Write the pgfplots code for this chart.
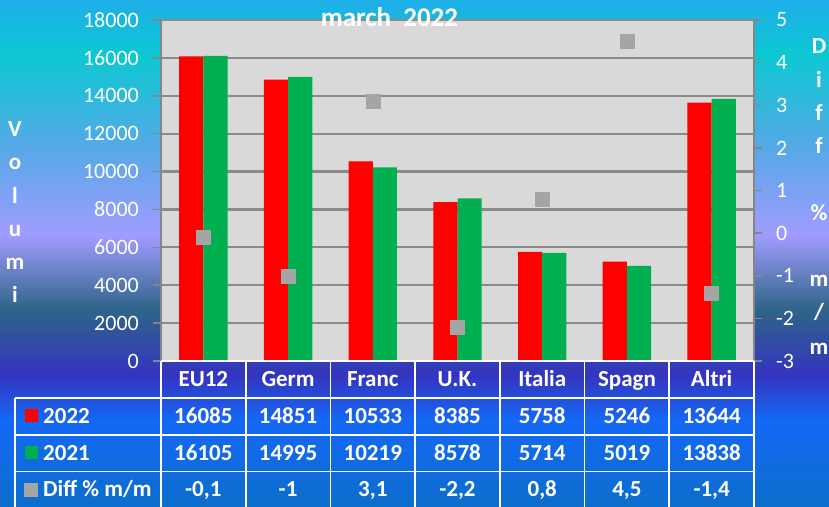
\documentclass[border=0pt]{standalone}
\usepackage{fontspec}
\setmainfont{Carlito}
\usepackage{pgfplots}
\pgfplotsset{compat=1.18}
\definecolor{bgA}{HTML}{0C6ECC}
\definecolor{bgB}{HTML}{1468F5}
\definecolor{bgC}{HTML}{3434C0}
\definecolor{bgD}{HTML}{2E6488}
\definecolor{bgE}{HTML}{A09CFF}
\definecolor{bgF}{HTML}{58A8E8}
\definecolor{bgG}{HTML}{0CC8D2}
\definecolor{bgH}{HTML}{1EAEE8}
\definecolor{barred}{HTML}{FF0000}
\definecolor{bargreen}{HTML}{00B050}
\definecolor{markgray}{HTML}{A5A5A5}
\definecolor{plotbg}{HTML}{D9D9D9}
\definecolor{gridgray}{HTML}{8A8A8A}
\definecolor{tickgray}{HTML}{868686}
\pgfdeclareverticalshading{bgshade}{829bp}{color(0bp)=(bgA); color(87bp)=(bgB); color(132bp)=(bgC); color(197bp)=(bgD); color(272bp)=(bgE); color(357bp)=(bgF); color(452bp)=(bgG); color(507bp)=(bgH)}
\newcommand{\tickfont}{\fontsize{22bp}{24bp}\selectfont}
\newcommand{\tblfont}{\fontsize{23bp}{25bp}\selectfont\bfseries}
\begin{document}
\begin{tikzpicture}[x=1bp,y=1bp]
\useasboundingbox (0,0) rectangle (829,-507);
\node[inner sep=0pt, outer sep=0pt, anchor=north west] at (0,0) {\pgfuseshading{bgshade}};
% primary axis: volumes
\begin{axis}[
  at={(161bp,-361bp)}, anchor=south west,
  scale only axis, width=593bp, height=341bp,
  xmin=-0.5, xmax=6.5, ymin=0, ymax=18000,
  axis x line=none, axis y line*=left,
  axis background/.style={fill=plotbg},
  y axis line style={draw=tickgray, line width=2bp},
  scaled y ticks=false,
  ytick={0,2000,4000,6000,8000,10000,12000,14000,16000,18000},
  yticklabels={0,2000,4000,6000,8000,10000,12000,14000,16000,18000},
  tick align=outside, major tick length=8bp,
  tick style={draw=tickgray, line width=1.5bp},
  ymajorgrids, major grid style={draw=gridgray, line width=2.2bp},
  yticklabel style={font=\tickfont, text=white, anchor=east, inner sep=0pt, xshift=-14bp},
  clip=false,
]
\addplot[ybar, bar width=24.2bp, bar shift=-12.1bp, fill=barred, draw=none]
  coordinates {(0,16085) (1,14851) (2,10533) (3,8385) (4,5758) (5,5246) (6,13644)};
\addplot[ybar, bar width=24.2bp, bar shift=12.1bp, fill=bargreen, draw=none]
  coordinates {(0,16105) (1,14995) (2,10219) (3,8578) (4,5714) (5,5019) (6,13838)};
\end{axis}
% secondary axis: diff %
\begin{axis}[
  at={(161bp,-361bp)}, anchor=south west,
  scale only axis, width=593bp, height=341bp,
  xmin=-0.5, xmax=6.5, ymin=-3, ymax=5,
  axis x line=none, axis y line*=right,
  y axis line style={draw=tickgray, line width=2bp},
  scaled y ticks=false,
  ytick={-3,-2,-1,0,1,2,3,4,5},
  yticklabels={-3,-2,-1,0,1,2,3,4,5},
  tick align=outside, major tick length=8bp,
  tick style={draw=tickgray, line width=1.5bp},
  yticklabel style={font=\tickfont, text=white, anchor=west, inner sep=0pt, xshift=14bp},
  clip=false,
]
\addplot[only marks, color=markgray, mark=square*, mark size=7bp, mark options={fill=markgray, draw=markgray}]
  coordinates {(0,-0.1) (1,-1) (2,3.1) (3,-2.2) (4,0.8) (5,4.5) (6,-1.4)};
\end{axis}
% data table
\draw[white, line width=1.6bp] (161,-361) -- (754,-361);
\draw[white, line width=1.6bp] (15,-397.7) -- (754,-397.7);
\draw[white, line width=1.6bp] (15,-435) -- (754,-435);
\draw[white, line width=1.3bp] (15,-471.7) -- (754,-471.7);
\draw[white, line width=1.6bp] (15,-397.7) -- (15,-507);
\foreach \i in {0,...,7} {\draw[white, line width=1.6bp] ({161+84.714*\i},-361) -- ({161+84.714*\i},-507);}
\foreach \n [count=\i from 0] in {EU12,Germ,Franc,U.K.,Italia,Spagn,Altri}
  \node[anchor=base, inner sep=0pt, font=\tblfont, text=white] at ({203.35+84.714*\i},-386.5) {\n};
\foreach \n [count=\i from 0] in {16085,14851,10533,8385,5758,5246,13644}
  \node[anchor=base, inner sep=0pt, font=\tblfont, text=white] at ({203.35+84.714*\i},-423) {\n};
\foreach \n [count=\i from 0] in {16105,14995,10219,8578,5714,5019,13838}
  \node[anchor=base, inner sep=0pt, font=\tblfont, text=white] at ({203.35+84.714*\i},-460) {\n};
\foreach \n [count=\i from 0] in {-0{,}1,-1,3{,}1,-2{,}2,0{,}8,4{,}5,-1{,}4}
  \node[anchor=base, inner sep=0pt, font=\tblfont, text=white] at ({203.35+84.714*\i},-496.5) {\n};
% legend keys
\fill[barred] (25,-409) rectangle (37.7,-422);
\fill[bargreen] (25,-446) rectangle (37.7,-459);
\fill[markgray] (24,-483) rectangle (38,-497);
\node[anchor=base west, inner sep=0pt, font=\tblfont, text=white] at (43,-423) {2022};
\node[anchor=base west, inner sep=0pt, font=\tblfont, text=white] at (43,-460) {2021};
\node[anchor=base west, inner sep=0pt, font=\tblfont, text=white] at (43,-496.5) {Diff \% m/m};
% title
\node[anchor=base, inner sep=0pt, font=\fontsize{27bp}{29bp}\selectfont\bfseries, text=white] at (389.5,-27) {march\ \ 2022};
% left axis title (stacked)
\foreach \c/\yy in {V/137,o/170,l/204,u/237,m/270,i/303}
  \node[anchor=base, inner sep=0pt, font=\tblfont, text=white] at (15,-\yy) {\c};
% right axis title (stacked)
\foreach \c/\yy in {D/54,i/87.5,f/121,f/154,\%/221,m/287,m/354}
  \node[anchor=base, inner sep=0pt, font=\tblfont, text=white] at (819,-\yy) {\c};
\node[anchor=base, inner sep=0pt, font=\tblfont, text=white] at (819,-320) {/};
\end{tikzpicture}
\end{document}
